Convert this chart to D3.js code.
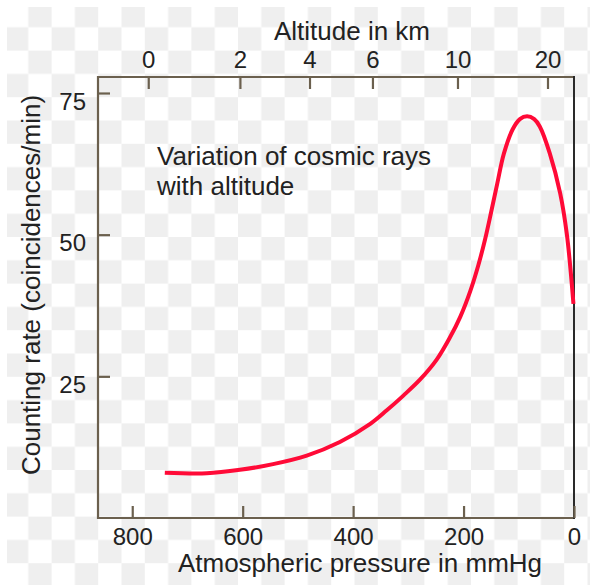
<!DOCTYPE html>
<html>
<head>
<meta charset="utf-8">
<script src="https://cdn.jsdelivr.net/npm/d3@7"></script>
<style>
  html, body { margin: 0; padding: 0; background: #fff; }
  svg { display: block; font-family: "Liberation Sans", Arial, Helvetica, sans-serif; }
  .tick text { fill: #222; }
</style>
</head>
<body>
<svg id="chart" width="590" height="585"></svg>
<script>
// pressure in mmHg (bottom axis) and counting rate
const pressure = [741, 665, 605, 545, 484, 424, 369, 339, 309, 279, 249, 225, 206, 188, 173, 161, 150, 139, 127, 111, 98, 85, 72, 62, 44, 25, 13, 1];
const rate = [8.0, 7.9, 8.5, 9.5, 11.0, 13.4, 16.6, 19.0, 21.6, 24.4, 27.9, 31.8, 35.5, 40.0, 44.7, 49.2, 54.0, 59.0, 64.3, 68.6, 70.4, 70.9, 70.4, 69.1, 64.4, 57.3, 50.1, 37.8];

// top axis: altitude labels and the pressure each one sits at
const altitudeKm = [0, 2, 4, 6, 10, 20];
const altitudePressure = [771, 605, 479, 365, 211, 48];

const pressureTicks = [800, 600, 400, 200, 0];
const rateTicks = [25, 50, 75];

const titleTop = "Altitude in km";
const titleBottom = "Atmospheric pressure in mmHg";
const titleLeft = "Counting rate (coincidences/min)";
const note = ["Variation of cosmic rays", "with altitude"];

const svg = d3.select("#chart");
const frameColor = "#6b604e";

// checkered background
const defs = svg.append("defs");
const cell = 23.3;
const pat = defs.append("pattern")
    .attr("id", "checker")
    .attr("patternUnits", "userSpaceOnUse")
    .attr("x", 5).attr("y", 4)
    .attr("width", cell * 2).attr("height", cell * 2);
pat.append("rect").attr("width", cell * 2).attr("height", cell * 2).attr("fill", "#fff");
pat.append("rect").attr("x", cell).attr("y", 0).attr("width", cell).attr("height", cell).attr("fill", "#efefef");
pat.append("rect").attr("x", 0).attr("y", cell).attr("width", cell).attr("height", cell).attr("fill", "#efefef");
svg.append("rect").attr("x", 7).attr("y", 7).attr("width", 583).attr("height", 578).attr("fill", "url(#checker)");

const plotLeft = 98, plotRight = 574, plotTop = 77, plotBottom = 518;

const x = d3.scaleLinear().domain([862, 0]).range([plotLeft, plotRight]);
const y = d3.scaleLinear().domain([0, 78]).range([plotBottom, plotTop - 1]);

// frame
svg.append("path")
    .attr("d", `M${plotRight},${plotTop}H${plotLeft}V${plotBottom}H${plotRight}`)
    .attr("fill", "none")
    .attr("stroke", frameColor)
    .attr("stroke-width", 2.2);
svg.append("line")
    .attr("x1", plotRight).attr("x2", plotRight)
    .attr("y1", plotTop - 1).attr("y2", plotBottom + 1)
    .attr("stroke", "#2a2a2a")
    .attr("stroke-width", 2);

function styleAxis(g) {
    g.select(".domain").remove();
    g.selectAll(".tick line").attr("stroke", frameColor).attr("stroke-width", 2.2);
    g.selectAll(".tick text").attr("font-size", 24);
}

svg.append("g")
    .attr("transform", `translate(0,${plotBottom})`)
    .call(d3.axisBottom(x).tickValues(pressureTicks).tickSizeInner(-12).tickSizeOuter(0).tickPadding(10))
    .call(styleAxis);

svg.append("g")
    .attr("transform", `translate(0,${plotTop})`)
    .call(d3.axisTop(x).tickValues(altitudePressure).tickFormat((d, i) => altitudeKm[i])
        .tickSizeInner(-12).tickSizeOuter(0).tickPadding(9))
    .call(styleAxis);

svg.append("g")
    .attr("transform", `translate(${plotLeft},0)`)
    .call(d3.axisLeft(y).tickValues(rateTicks).tickSizeInner(-12).tickSizeOuter(0).tickPadding(12))
    .call(styleAxis)
    .selectAll(".tick text").attr("dy", "0.68em");

// titles
svg.append("text")
    .attr("x", 352).attr("y", 40)
    .attr("text-anchor", "middle")
    .attr("font-size", 26)
    .attr("fill", "#222")
    .text(titleTop);

svg.append("text")
    .attr("x", 360).attr("y", 572)
    .attr("text-anchor", "middle")
    .attr("font-size", 26)
    .attr("fill", "#222")
    .text(titleBottom);

svg.append("text")
    .attr("transform", "translate(40,285) rotate(-90)")
    .attr("text-anchor", "middle")
    .attr("font-size", 26)
    .attr("fill", "#222")
    .text(titleLeft);

svg.append("g")
    .selectAll("text")
    .data(note)
    .join("text")
    .attr("x", 157)
    .attr("y", (d, i) => 165 + i * 30)
    .attr("font-size", 26)
    .attr("fill", "#222")
    .text(d => d);

// curve
const points = pressure.map((p, i) => ({ p, r: rate[i] }));
const line = d3.line()
    .x(d => x(d.p))
    .y(d => y(d.r))
    .curve(d3.curveCatmullRom.alpha(0.5));

svg.append("path")
    .datum(points)
    .attr("d", line)
    .attr("fill", "none")
    .attr("stroke", "#ff0a37")
    .attr("stroke-width", 4);
</script>
</body>
</html>
